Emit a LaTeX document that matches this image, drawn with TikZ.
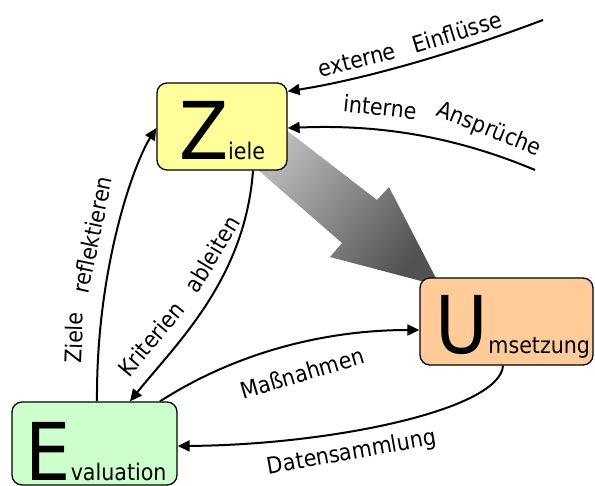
\documentclass[tikz,border=0pt]{standalone}
\usepackage{fontspec}
\setmainfont{DejaVu Sans Condensed}
\usetikzlibrary{arrows.meta,calc}
\definecolor{zfill}{HTML}{FFFF99}
\definecolor{ufill}{HTML}{FFCC99}
\definecolor{efill}{HTML}{CCFFCC}
\begin{document}
\begin{tikzpicture}[x=1bp,y=-1bp,
  box/.style={draw=black, line width=1.3bp, rounded corners=10bp, inner sep=0pt},
  conn/.style={line width=2bp, -{Triangle[length=12bp,width=11bp]}},
  lbl/.style={font=\fontsize{23}{27}\selectfont, inner sep=0pt},
  boxtext/.style={anchor=base, inner sep=0pt, text depth=0pt}
]
\useasboundingbox (0,0) rectangle (595,486);
% big shaded arrow
\shade[top color=black!68, bottom color=black!22, shading angle=-128.6]
  (263,112) -- (377,200) -- (389,187) -- (440,286) -- (330,257) -- (342,243) -- (235,150) -- cycle;
% boxes
\node[box, fill=zfill, minimum width=130bp, minimum height=87bp] (Z) at (222,126.5) {};
\node[box, fill=ufill, minimum width=173bp, minimum height=87bp] (U) at (506.5,321.5) {};
\node[box, fill=efill, minimum width=165bp, minimum height=83bp] (E) at (94.5,443.5) {};
\node[boxtext] (Zt) at (222,160) {{\fontsize{80}{80}\selectfont Z}{\fontsize{23}{27}\selectfont iele}};
\node[boxtext] (Ut) at (513,353) {{\fontsize{80}{80}\selectfont U}{\fontsize{23}{27}\selectfont msetzung}};
\node[boxtext] (Et) at (96,480) {{\fontsize{80}{80}\selectfont E}{\fontsize{23}{27}\selectfont valuation}};
% free ends
\coordinate (extsrc) at (543,20);
\coordinate (intsrc) at (535,170);
% connectors
\draw[conn] (extsrc) .. controls (450,55) and (360,80) .. ($(Z.north east)+(0,9)$);
\draw[conn] (intsrc) .. controls (440,130) and (360,125) .. ($(Z.east)+(0,1.5)$);
\draw[conn] ($(E.north)+(2.5,0)$) .. controls (96,270) and (133,165) .. ($(Z.west)+(0,1.5)$);
\draw[conn] ($(Z.south)+(31,0)$) .. controls (245,280) and (175,345) .. ($(E.north)+(35.5,0)$);
\draw[conn] ($(E.north)+(65.5,0)$) .. controls (240,350) and (330,330) .. ($(U.west)+(0,8.5)$);
\draw[conn] ($(U.south)+(-3.5,0)$) .. controls (500,410) and (330,445) .. ($(E.east)+(0,2.5)$);
% labels
\node[lbl, rotate=14] (l1a) at (357,60) {externe};
\node[lbl, rotate=17] (l1b) at (457,32) {Einflüsse};
\node[lbl, rotate=-6] (l2a) at (380,107) {interne};
\node[lbl, rotate=-22] (l2b) at (489,130) {Ansprüche};
\node[lbl, rotate=88] (l3a) at (74,338) {Ziele};
\node[lbl, rotate=78] (l3b) at (92,235) {reflektieren};
\node[lbl, rotate=50] (l4a) at (151,339) {Kriterien};
\node[lbl, rotate=59] (l4b) at (212,254) {ableiten};
\node[lbl, rotate=16.5] (l5) at (302,373) {Maßnahmen};
\node[lbl, rotate=10] (l6) at (352,453) {Datensammlung};
\end{tikzpicture}
\end{document}
